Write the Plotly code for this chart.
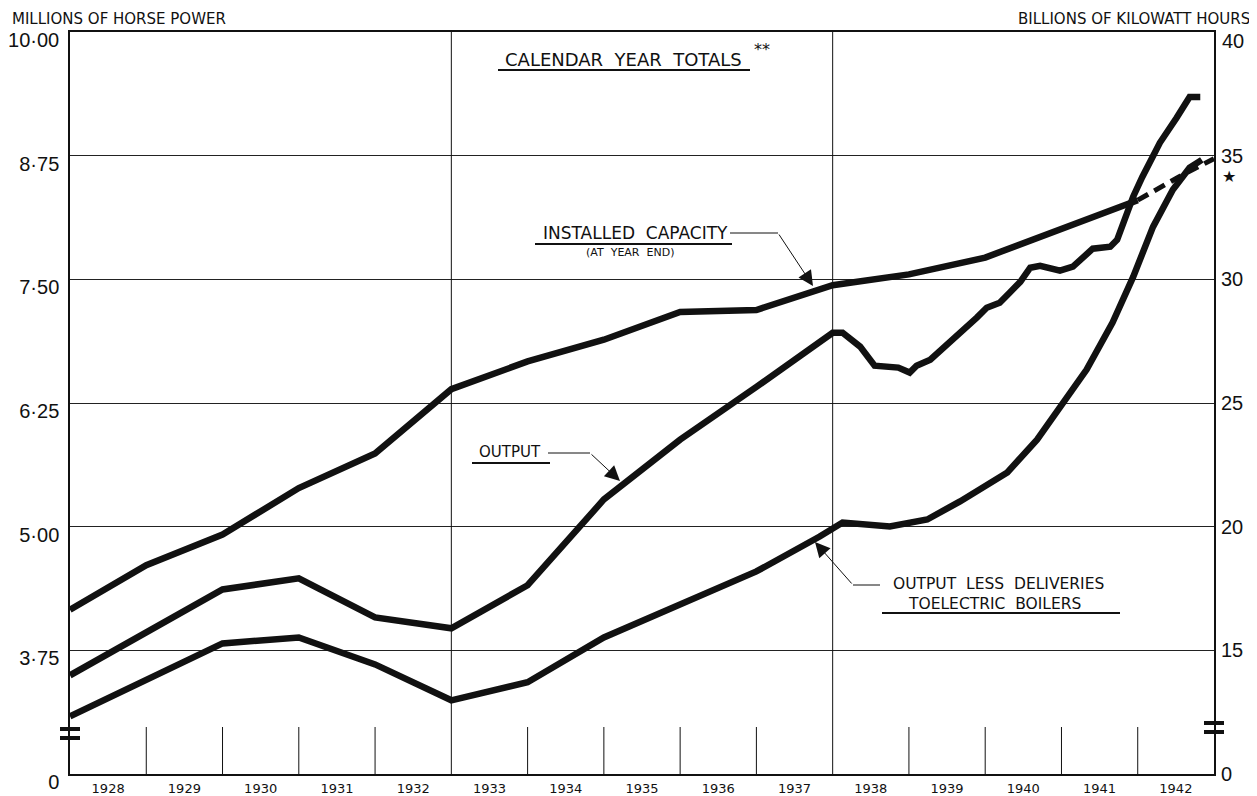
import plotly.graph_objects as go

# ---------------- data ----------------
year_labels = ["1928", "1929", "1930", "1931", "1932", "1933", "1934", "1935",
               "1936", "1937", "1938", "1939", "1940", "1941", "1942"]

# Installed capacity (millions of horse power, at year end)
capacity_x = [1928, 1929, 1930, 1931, 1932, 1933, 1934, 1935, 1936, 1937,
              1938, 1939, 1940, 1941, 1942]
capacity_hp = [4.16, 4.61, 4.92, 5.39, 5.74, 6.39, 6.67, 6.89, 7.17, 7.19,
               7.44, 7.55, 7.72, 8.01, 8.30]
capacity_est_x = [1942, 1942.55, 1943]
capacity_est_hp = [8.30, 8.54, 8.72]

# Output (billions of kWh)
output_x = [1928.0, 1929.0, 1930.0, 1931.0, 1932.0, 1933.0, 1934.0, 1935.0, 1936.0,
            1937.0, 1938.0, 1938.13, 1938.36, 1938.55, 1938.71, 1938.86, 1939.01,
            1939.1, 1939.28, 1939.5, 1939.67, 1939.89, 1940.02, 1940.19, 1940.32,
            1940.46, 1940.59, 1940.72, 1940.98, 1941.15, 1941.41, 1941.64, 1941.73,
            1941.94, 1942.06, 1942.29, 1942.51, 1942.68, 1942.82]
output_kwh = [13.99, 15.73, 17.46, 17.91, 16.33, 15.89, 17.63, 21.10, 23.52,
              25.65, 27.84, 27.84, 27.28, 26.51, 26.47, 26.43, 26.23,
              26.51, 26.75, 27.36, 27.76, 28.45, 28.85, 29.05, 29.46,
              29.90, 30.47, 30.55, 30.35, 30.51, 31.24, 31.32, 31.60,
              33.34, 34.14, 35.52, 36.53, 37.37, 37.37]

# Output less deliveries to electric boilers (billions of kWh)
less_x = [1928, 1929, 1930, 1931, 1932, 1933, 1934, 1935, 1936, 1937,
          1937.83, 1938.13, 1938.75, 1939.24, 1939.67, 1940.29, 1940.68,
          1941.07, 1941.33, 1941.67, 1941.94, 1942.2, 1942.46, 1942.68, 1942.84]
less_kwh = [12.33, 13.83, 15.28, 15.52, 14.43, 12.98, 13.71, 15.52, 16.86, 18.19,
            19.60, 20.17, 20.01, 20.29, 21.02, 22.19, 23.52,
            25.22, 26.35, 28.25, 30.10, 32.12, 33.62, 34.51, 34.83]

hp_ticks = [2.5, 3.75, 5.0, 6.25, 7.5, 8.75, 10.0]
hp_tick_text = ["0", "3·75", "5·00", "6·25", "7·50", "8·75", "10·00"]
kwh_ticks = [10, 15, 20, 25, 30, 35]
kwh_tick_text = ["0", "15", "20", "25", "30", "35"]
kwh_top_label = "40"

# ---------------- geometry helpers (layout only) ----------------
# page body has an 8px margin: figure is drawn at (8, 8) in the window
OFF = 8
SL, SR, ST, SB = 70, 1214, 32, 774      # plot area in window pixels
W, H = 1257 - OFF, 796 - OFF
L, R, T, B = SL - OFF, SR - OFF, ST - OFF, SB - OFF


def PX(px):
    return 1928 + (px - SL) * 15 / (SR - SL)


def PY(py):
    return 10 - (py - ST) * 7.5 / (SB - ST)


def PXp(px):
    return (px - SL) / (SR - SL)


def PYp(py):
    return (SB - py) / (SB - ST)


INK = "#111111"
FONT = "DejaVu Sans, Liberation Sans, sans-serif"
NUMFONT = "Liberation Sans Narrow, Liberation Sans, DejaVu Sans, sans-serif"

fig = go.Figure()

fig.add_trace(go.Scatter(x=capacity_x, y=capacity_hp, mode="lines",
                         line=dict(color=INK, width=6.5), yaxis="y",
                         showlegend=False, hoverinfo="skip"))
fig.add_trace(go.Scatter(x=capacity_est_x, y=capacity_est_hp, mode="lines",
                         line=dict(color=INK, width=5, dash="12px,7px"), yaxis="y",
                         showlegend=False, hoverinfo="skip"))
fig.add_trace(go.Scatter(x=output_x, y=output_kwh, mode="lines",
                         line=dict(color=INK, width=6.5), yaxis="y2",
                         showlegend=False, hoverinfo="skip"))
fig.add_trace(go.Scatter(x=less_x, y=less_kwh, mode="lines",
                         line=dict(color=INK, width=6.5), yaxis="y2",
                         showlegend=False, hoverinfo="skip"))

shapes = []
# year boundary lines
for yr in range(1929, 1943):
    if yr in (1933, 1938):
        shapes.append(dict(type="line", xref="x", yref="y", x0=yr, x1=yr,
                           y0=2.5, y1=10, line=dict(color=INK, width=1)))
    else:
        shapes.append(dict(type="line", xref="x", yref="y", x0=yr, x1=yr,
                           y0=2.5, y1=PY(727), line=dict(color=INK, width=1)))

# axis break marks
for py in (729, 738):
    shapes.append(dict(type="line", xref="paper", yref="y",
                       x0=PXp(60), x1=PXp(80), y0=PY(py), y1=PY(py),
                       line=dict(color=INK, width=4)))
for py in (723, 732):
    shapes.append(dict(type="line", xref="paper", yref="y",
                       x0=PXp(1204), x1=PXp(1224), y0=PY(py), y1=PY(py),
                       line=dict(color=INK, width=4)))


# underlines and leaders
def seg(x0, y0, x1, y1, w=1.5):
    shapes.append(dict(type="line", xref="x", yref="y",
                       x0=PX(x0), x1=PX(x1), y0=PY(y0), y1=PY(y1),
                       line=dict(color=INK, width=w)))


seg(498, 70, 750, 70, 2)          # calendar year totals
seg(535, 244, 732, 244, 2)        # installed capacity
seg(730, 233, 778, 233, 1)
seg(472, 463, 550, 463, 2)        # output
seg(548, 453, 590, 453, 1)
seg(882, 613, 1120, 613, 2)       # output less deliveries
seg(853, 585, 880, 585, 1)

annotations = []


def text(px, py, s, size=15, anchor="left", font=FONT, ref="x"):
    if ref == "x":
        annotations.append(dict(x=PX(px), y=PY(py), xref="x", yref="y", text=s,
                                showarrow=False, xanchor=anchor, yanchor="middle",
                                font=dict(family=font, size=size, color=INK)))
    else:
        annotations.append(dict(x=PXp(px), y=PYp(py), xref="paper", yref="paper",
                                text=s, showarrow=False, xanchor=anchor,
                                yanchor="middle",
                                font=dict(family=font, size=size, color=INK)))


def arrow(tipx, tipy, tailx, taily):
    annotations.append(dict(x=PX(tipx), y=PY(tipy), xref="x", yref="y",
                            ax=PX(tailx), ay=PY(taily), axref="x", ayref="y",
                            text="", showarrow=True, arrowhead=2, arrowsize=3,
                            arrowwidth=1, arrowcolor=INK))


text(10, 19, "MILLIONS OF HORSE POWER", 15, "left", ref="paper")
text(1252, 19, "BILLIONS OF KILOWATT HOURS", 15, "right", ref="paper")
text(1220, 41, kwh_top_label, 20, "left", font=NUMFONT, ref="paper")
text(503, 59, "CALENDAR  YEAR  TOTALS", 18, "left")
text(752, 49, "**", 16, "left")
text(541, 233, "INSTALLED  CAPACITY", 17, "left")
text(630, 252, "(AT  YEAR  END)", 11, "center")
text(477, 452, "OUTPUT", 15, "left")
text(891, 584, "OUTPUT  LESS  DELIVERIES", 15.5, "left")
text(906, 604, "TOELECTRIC  BOILERS", 15.5, "left")
text(1229, 176, "★", 16, "center", ref="paper")

arrow(813, 286, 778, 233)
arrow(620, 481, 590, 453)
arrow(815, 542, 853, 585)

fig.update_layout(
    width=W, height=H, autosize=False,
    margin=dict(l=L, r=W - R, t=T, b=H - B, pad=0),
    paper_bgcolor="white", plot_bgcolor="white",
    shapes=shapes, annotations=annotations,
    xaxis=dict(range=[1928, 1943], showgrid=False, zeroline=False, automargin=False,
               showline=True, linecolor=INK, linewidth=1.5, mirror=True,
               tickmode="array", tickvals=[y + 0.5 for y in range(1928, 1943)],
               ticktext=year_labels, ticks="", ticklabelstandoff=2,
               tickfont=dict(family=FONT, size=13, color=INK)),
    yaxis=dict(range=[2.5, 10], showgrid=True, gridcolor="#222222", gridwidth=1,
               zeroline=False, showline=True, linecolor=INK, linewidth=1.5,
               automargin=False,
               mirror=True, tickmode="array", tickvals=hp_ticks,
               ticktext=hp_tick_text, ticks="", ticklabelshift=8,
               ticklabelstandoff=5,
               tickfont=dict(family=NUMFONT, size=20, color=INK)),
    yaxis2=dict(range=[10, 40], overlaying="y", side="right", showgrid=False,
                zeroline=False, showline=False, tickmode="array", automargin=False,
                tickvals=kwh_ticks, ticktext=kwh_tick_text, ticks="",
                ticklabelstandoff=6, ticklabelshift=0,
                tickfont=dict(family=NUMFONT, size=20, color=INK)),
)

fig.write_html("out.html")
